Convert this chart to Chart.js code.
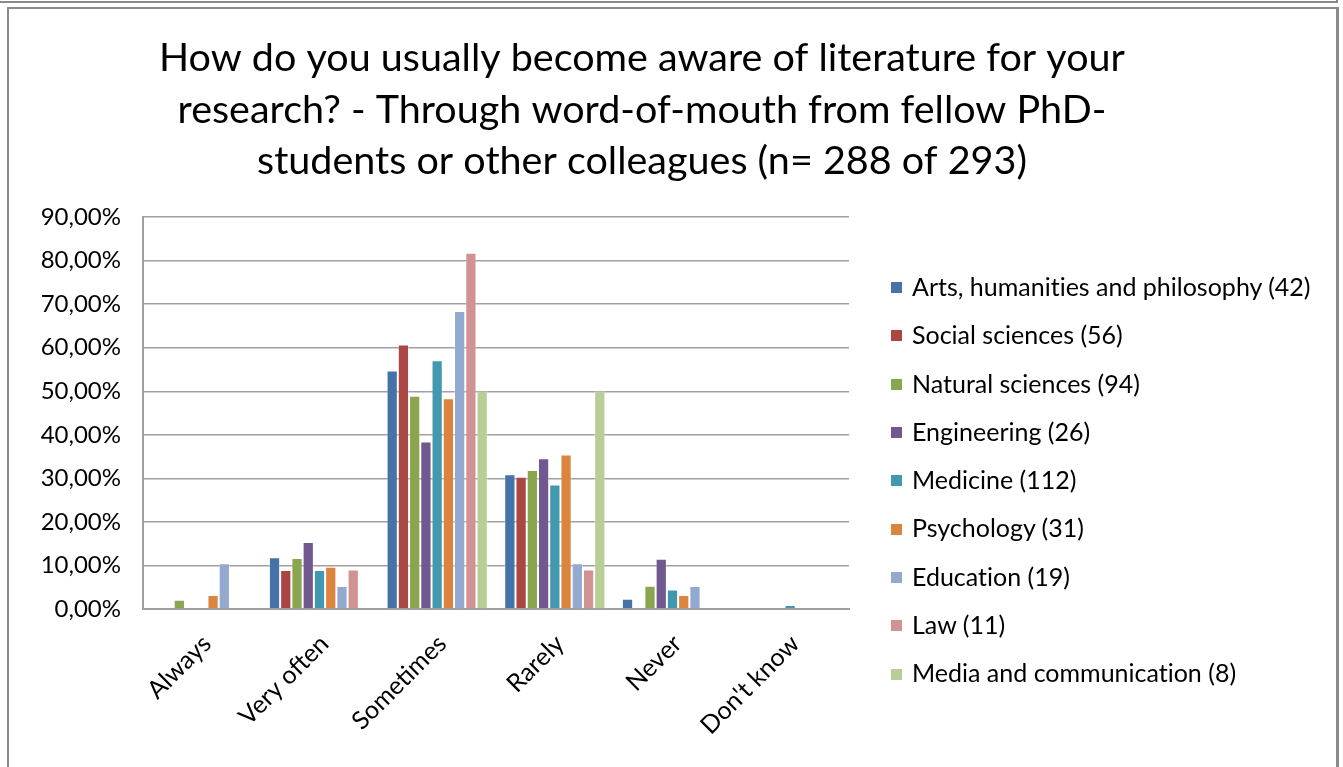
<!DOCTYPE html>
<html>
<head>
<meta charset="utf-8">
<script src="https://cdn.jsdelivr.net/npm/chart.js@4"></script>
<style>
  html, body { margin: 0; padding: 0; background: #fff; }
  #wrap { position: relative; width: 1343px; height: 767px; overflow: hidden; }
  #topline { position: absolute; left: 0; top: 0; width: 1336px; height: 1px; border-bottom: 2px solid #8a8a8a; border-right: 2px solid #8a8a8a; }
  #frame { position: absolute; left: 7px; top: 7px; width: 1327px; height: 800px; border: 2px solid #8a8a8a; border-right-width: 3px; }
  canvas { position: absolute; left: 0; top: 0; }
  #legend { position: absolute; left: 891px; top: 262px; margin: 0; padding: 0; list-style: none;
            font-family: Lato, "Open Sans", sans-serif; font-size: 25px; color: #000;
            font-variant-ligatures: none; }
  #legend li { height: 48.3px; line-height: 48.3px; white-space: nowrap; }
  #legend span { display: inline-block; width: 11px; height: 11px; margin-right: 10px; vertical-align: middle; position: relative; top: -2px; }
</style>
</head>
<body>
<div id="wrap">
  <div id="topline"></div>
  <div id="frame"></div>
  <canvas id="chart" width="1343" height="767"></canvas>
  <ul id="legend"></ul>
</div>
<script>
// 类别（x 轴）
const categories = ['Always', 'Very often', 'Sometimes', 'Rarely', 'Never', "Don't know"];

// 各学科百分比（%）
const arts        = [0, 11.90, 54.76, 30.95, 2.38, 0];
const social      = [0, 8.93, 60.71, 30.36, 0, 0];
const natural     = [2.13, 11.70, 48.94, 31.91, 5.32, 0];
const engineering = [0, 15.38, 38.46, 34.62, 11.54, 0];
const medicine    = [0, 8.93, 57.14, 28.57, 4.46, 0.89];
const psychology  = [3.23, 9.68, 48.39, 35.48, 3.23, 0];
const education   = [10.53, 5.26, 68.42, 10.53, 5.26, 0];
const law         = [0, 9.09, 81.82, 9.09, 0, 0];
const media       = [0, 0, 50, 50, 0, 0];

const seriesNames = [
  'Arts, humanities and philosophy (42)', 'Social sciences (56)', 'Natural sciences (94)',
  'Engineering (26)', 'Medicine (112)', 'Psychology (31)', 'Education (19)', 'Law (11)',
  'Media and communication (8)'
];
const seriesData = [arts, social, natural, engineering, medicine, psychology, education, law, media];
const colors = ['#4572A7', '#AA4643', '#89A54E', '#71588F', '#4198AF', '#DB843D', '#93A9CF', '#D19392', '#B9CD96'];

const titleLines = [
  'How do you usually become aware of literature for your',
  'research? - Through word-of-mouth from fellow PhD-',
  'students or other colleagues (n= 288 of 293)'
];

const FONT = 'Lato, "Open Sans", sans-serif';
const gridGray = '#a0a0a0';

const chart = new Chart(document.getElementById('chart').getContext('2d'), {
  type: 'bar',
  data: {
    labels: categories,
    datasets: seriesData.map((d, i) => ({
      label: seriesNames[i], data: d, backgroundColor: colors[i],
      borderColor: 'rgba(255,255,255,0.35)', borderWidth: 1,
      categoryPercentage: 0.86, barPercentage: 1.0
    }))
  },
  options: {
    responsive: false,
    animation: false,
    layout: { padding: { left: 8, right: 67, top: 0, bottom: 0 } },
    plugins: {
      legend: { display: false },
      tooltip: { enabled: false },
      title: {
        display: true, text: titleLines, color: '#000',
        font: { family: FONT, size: 39.5, weight: 'normal', lineHeight: 1.3 },
        padding: { top: 33, bottom: 30 }
      }
    },
    scales: {
      x: {
        grid: { display: false },
        border: { display: true, color: gridGray, width: 2 },
        ticks: { color: '#000', font: { family: FONT, size: 25 }, maxRotation: 45, minRotation: 45,
                 padding: 12, labelOffset: 5 },
        afterFit(scale) { scale.height = 158; }
      },
      y: {
        min: 0, max: 90,
        grid: { color: gridGray, lineWidth: 1.5, drawTicks: false },
        border: { display: true, color: gridGray, width: 2 },
        ticks: {
          stepSize: 10, color: '#000', padding: 22,
          font: { family: FONT, size: 24 },
          callback: v => v.toFixed(2).replace('.', ',') + '%'
        },
        afterFit(scale) { scale.width = 135; }
      },
      // 右侧留白给图例
      yRight: {
        position: 'right', display: true,
        grid: { display: false }, border: { display: false }, ticks: { display: false },
        afterFit(scale) { scale.width = 1343 - 67 - 849; }
      }
    }
  }
});

// HTML 图例
const ul = document.getElementById('legend');
chart.data.datasets.forEach(ds => {
  const li = document.createElement('li');
  const sw = document.createElement('span');
  sw.style.background = ds.backgroundColor;
  li.appendChild(sw);
  li.appendChild(document.createTextNode(ds.label));
  ul.appendChild(li);
});
</script>
</body>
</html>
